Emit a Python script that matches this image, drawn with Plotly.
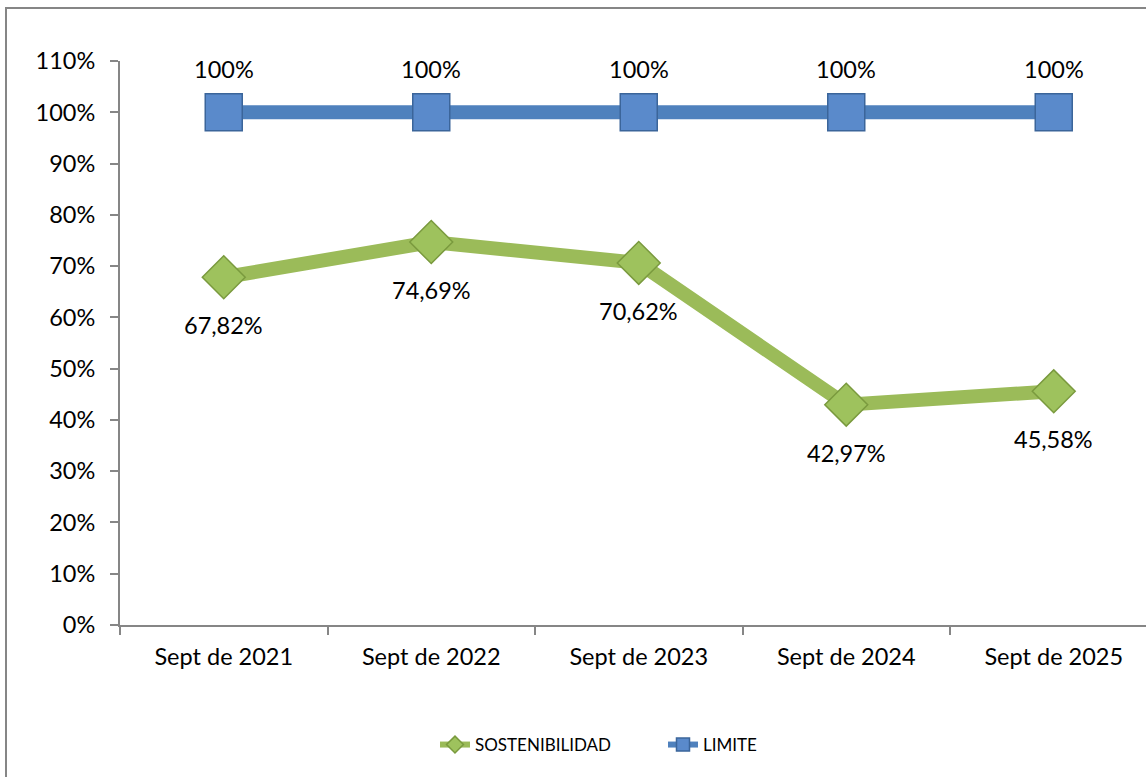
import plotly.graph_objects as go

categories = ["Sept de 2021", "Sept de 2022", "Sept de 2023", "Sept de 2024", "Sept de 2025"]
sostenibilidad = [0.6782, 0.7469, 0.7062, 0.4297, 0.4558]
limite = [1.0, 1.0, 1.0, 1.0, 1.0]
ytick_vals = [i / 10 for i in range(0, 12)]

GREEN = "#9BBB59"
BLUE = "#4F81BD"
FONT = "Lato"
FS = 23.5

def fmt(v):
    s = f"{v*100:.2f}".replace(".", ",")
    if s.endswith(",00"):
        s = s[:-3]
    return s + "%"

green_marker = dict(symbol="diamond", color="#9EC25D", line=dict(color="#7A9A3E", width=1.5))
blue_marker = dict(symbol="square", color="#5A8ACB", line=dict(color="#3B659A", width=1.5))

fig = go.Figure()
fig.add_trace(go.Scatter(
    x=categories, y=sostenibilidad, name="SOSTENIBILIDAD", mode="lines+markers",
    line=dict(color=GREEN, width=14), marker=dict(size=33, **green_marker),
    cliponaxis=False, showlegend=False,
))
fig.add_trace(go.Scatter(
    x=categories, y=limite, name="LIMITE", mode="lines+markers",
    line=dict(color=BLUE, width=14), marker=dict(size=37, **blue_marker),
    cliponaxis=False, showlegend=False,
))
# legend entries
fig.add_trace(go.Scatter(
    x=[None], y=[None], name="SOSTENIBILIDAD", mode="lines+markers",
    line=dict(color=GREEN, width=6), marker=dict(size=13, **green_marker),
))
fig.add_trace(go.Scatter(
    x=[None], y=[None], name="LIMITE", mode="lines+markers",
    line=dict(color=BLUE, width=6), marker=dict(size=13, **blue_marker),
))

annotations = []
for c, v in zip(categories, sostenibilidad):
    annotations.append(dict(x=c, y=v, text=fmt(v), showarrow=False, yshift=-48,
                            font=dict(family=FONT, size=FS, color="#000000")))
for c, v in zip(categories, limite):
    annotations.append(dict(x=c, y=v, text=fmt(v), showarrow=False, yshift=43,
                            font=dict(family=FONT, size=FS, color="#000000")))

W, H = 1146, 777
L, R, T, B = 120, 0, 61, 152
pw, ph = W - L - R, H - T - B

fig.update_layout(
    width=W, height=H,
    margin=dict(l=L, r=R, t=T, b=B),
    paper_bgcolor="white", plot_bgcolor="white",
    font=dict(family=FONT, size=FS, color="#000000"),
    showlegend=True,
    legend=dict(orientation="h", x=(435 - L) / pw, xanchor="left",
                y=(H - B - 745) / ph, yanchor="middle",
                font=dict(family=FONT, size=17, color="#000000"),
                itemsizing="trace", tracegroupgap=0, entrywidth=183),
    xaxis=dict(
        type="category", range=[-0.5, -0.5 + pw / 207.5],
        showline=True, linecolor="#868686", linewidth=2,
        ticks="outside", tickson="boundaries", ticklen=8, tickcolor="#868686", tickwidth=2,
        showgrid=False, zeroline=False, ticklabelstandoff=10,
        tickfont=dict(family=FONT, size=FS, color="#000000"),
    ),
    yaxis=dict(
        range=[0, 1.1], tickvals=ytick_vals, tickformat=".0%",
        showline=True, linecolor="#868686", linewidth=2,
        ticks="outside", ticklen=8, tickcolor="#868686", tickwidth=2,
        showgrid=False, zeroline=False, ticklabelstandoff=10,
        tickfont=dict(family=FONT, size=FS, color="#000000"),
    ),
    annotations=annotations,
    shapes=[dict(type="rect", xref="paper", yref="paper",
                 x0=(6 - L) / pw, x1=1.05, y0=-0.5, y1=(H - B - 8) / ph,
                 line=dict(color="#868686", width=2), fillcolor="rgba(0,0,0,0)",
                 layer="below")],
)

fig.write_html("out.html", config={"displayModeBar": False},
               post_script="document.body.style.margin='0px';document.body.style.overflow='hidden';")
